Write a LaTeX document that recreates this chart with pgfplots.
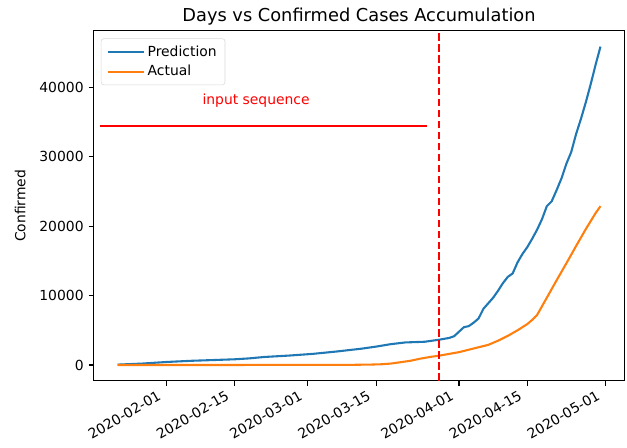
\documentclass[border=0pt]{standalone}
\usepackage{pgfplots}
\pgfplotsset{compat=1.18}
\usepackage{fontspec}
\setmainfont{DejaVu Sans}
\definecolor{mplblue}{HTML}{1F77B4}
\definecolor{mplorange}{HTML}{FF7F0E}
\begin{document}
\begin{tikzpicture}
\begin{axis}[
  scale only axis,
  width=382.3pt, height=252pt,
  xmin=-14.95, xmax=93.95,
  ymin=-2295, ymax=48195,
  axis line style={line width=0.8pt},
  every tick/.style={black, line width=0.8pt},
  tick align=outside,
  major tick length=3.5pt,
  xtick pos=bottom, ytick pos=left,
  xtick={0,14,29,43,60,74,90},
  xticklabels={2020-02-01,2020-02-15,2020-03-01,2020-03-15,2020-04-01,2020-04-15,2020-05-01},
  xticklabel style={xshift=-6.5pt, yshift=-1.5pt, rotate=30, anchor=north east, font=\fontsize{10}{12}\selectfont, inner sep=1pt},
  ytick={0,10000,20000,30000,40000},
  scaled y ticks=false,
  yticklabel style={/pgf/number format/fixed, /pgf/number format/1000 sep={}, font=\fontsize{10}{12}\selectfont},
  /pgf/number format/assume math mode=true,
  ylabel={Confirmed},
  ylabel style={font=\fontsize{10}{12}\selectfont, yshift=3pt},
  title={Days vs Confirmed Cases Accumulation},
  title style={font=\fontsize{12.8}{15}\selectfont, yshift=-5.5pt},
  legend style={at={(0.014,0.978)}, anchor=north west, draw=black!15, rounded corners=2pt,
    font=\fontsize{10}{12}\selectfont, row sep=1pt, inner xsep=4pt, inner ysep=3pt},
  legend cell align=left,
  legend image code/.code={\draw[#1] (0pt,0pt) -- (22pt,0pt); \path (0pt,0pt) -- (26pt,0pt);},
]
\addplot[mplblue, line width=1.5pt] coordinates {
(-10,50) (-5,200) (0,430) (5,600) (10,720) (14,820) (17,950) (20,1150) (25,1350) (30,1600)
(35,1950) (40,2350) (43,2650) (46,3000) (49,3250) (53,3350) (56,3650) (58,3900) (59,4150)
(60,4800) (61,5450) (62,5600) (63,6100) (64,6700) (65,8100) (66,8900) (67,9700) (68,10700)
(69,11800) (70,12700) (71,13200) (72,14800) (73,16000) (74,17000) (75,18200) (76,19500)
(77,21000) (78,22900) (79,23600) (80,25200) (81,26900) (82,29000) (83,30700) (84,33300)
(85,35500) (86,37900) (87,40500) (88,43300) (89,45900)
};
\addlegendentry{Prediction}
\addplot[mplorange, line width=1.5pt] coordinates {
(-10,0) (0,0) (10,0) (20,5) (30,10) (38,20) (42,60) (44,100) (46,200) (48,400) (50,600)
(52,900) (54,1150) (56,1350) (58,1600) (60,1850) (62,2200) (64,2550) (66,2900) (68,3500)
(70,4200) (72,5000) (74,5900) (75,6500) (76,7200) (78,9700) (80,12200) (82,14650)
(84,17150) (86,19600) (88,21900) (89,22900)
};
\addlegendentry{Actual}
\addplot[red, line width=1.5pt, forget plot] coordinates {(-13.5,34450) (53.4,34450)};
\addplot[red, line width=1.5pt, dash pattern=on 5.5pt off 2.4pt, forget plot] coordinates {(55.86,-2295) (55.86,48195)};
\node[red, font=\fontsize{10}{12}\selectfont] at (axis cs:18.4,38050) {input sequence};
\end{axis}
\path[use as bounding box] ([xshift=-67.2pt,yshift=-47.8pt]current axis.south west) rectangle ([xshift=1.7pt,yshift=22.1pt]current axis.north east);
\end{tikzpicture}
\end{document}
